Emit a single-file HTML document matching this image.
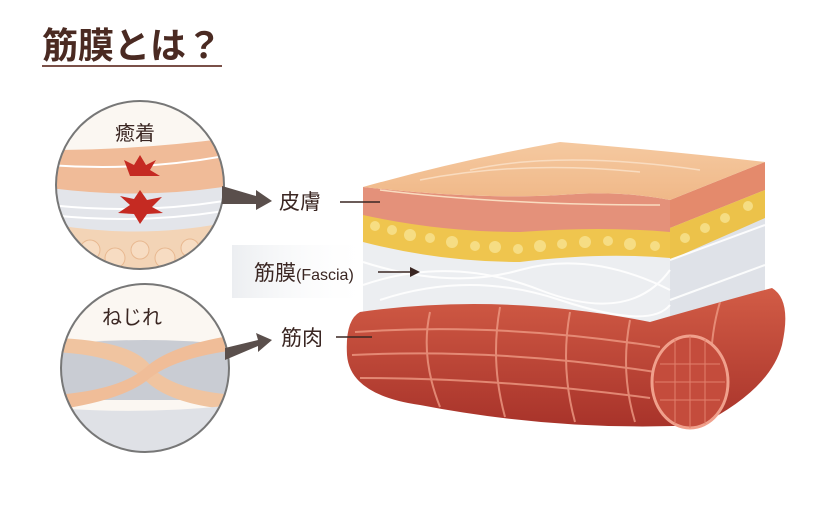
<!DOCTYPE html>
<html><head><meta charset="utf-8"><style>
body{margin:0;background:#fff;width:830px;height:500px;overflow:hidden;font-family:"Liberation Sans","Noto Sans CJK JP",sans-serif}
</style></head><body>
<svg width="830" height="500" viewBox="0 0 830 500" xmlns="http://www.w3.org/2000/svg">
<defs>
<linearGradient id="top" x1="0" y1="0" x2="0" y2="1"><stop offset="0" stop-color="#f5c9a0"/><stop offset="1" stop-color="#f0b888"/></linearGradient>
<linearGradient id="band" x1="0" y1="0" x2="1" y2="0"><stop offset="0" stop-color="#eceef1"/><stop offset="1" stop-color="#ffffff" stop-opacity="0"/></linearGradient>
<linearGradient id="mus" x1="0" y1="0" x2="0" y2="1"><stop offset="0" stop-color="#d25c46"/><stop offset="1" stop-color="#a8332a"/></linearGradient>
<clipPath id="c1"><circle cx="140" cy="185" r="84"/></clipPath>
<clipPath id="c2"><circle cx="145" cy="368" r="84"/></clipPath>
</defs>
<text x="42" y="58" font-size="36" font-weight="bold" fill="#4a2a22" font-family="Liberation Sans,Noto Sans CJK JP,sans-serif">筋膜とは？</text>
<rect x="42" y="65" width="180" height="2" fill="#7a5048"/>

<rect x="232" y="245" width="140" height="53" fill="url(#band)"/>

<path d="M670 200 L765 162 L765 300 L670 335 Z" fill="#dfe2e8"/>
<path d="M670 200 L765 162 L765 190 L670 228 Z" fill="#e48a6c"/>
<path d="M670 228 L765 190 L765 218 L670 260 Z" fill="#ecc24a"/>
<path d="M363 187 Q480 200 560 195 Q620 190 670 200 L670 335 Q560 320 363 320 Z" fill="#eceef1"/>
<path d="M363 187 Q480 200 560 195 Q620 190 670 200 L670 240 Q600 232 520 240 Q440 240 363 220 Z" fill="#e4917a"/>
<path d="M363 215 Q440 232 520 232 Q600 226 670 232 L670 258 Q600 252 520 262 Q440 262 363 242 Z" fill="#efc54e"/>
<g fill="#f7e08a" opacity="0.9">
<circle cx="375" cy="226" r="5"/><circle cx="392" cy="230" r="5"/><circle cx="410" cy="235" r="6"/><circle cx="430" cy="238" r="5"/><circle cx="452" cy="242" r="6"/><circle cx="475" cy="246" r="5"/><circle cx="495" cy="247" r="6"/><circle cx="518" cy="249" r="5"/><circle cx="540" cy="246" r="6"/><circle cx="562" cy="244" r="5"/><circle cx="585" cy="242" r="6"/><circle cx="608" cy="241" r="5"/><circle cx="630" cy="244" r="6"/><circle cx="655" cy="246" r="5"/><circle cx="685" cy="238" r="5"/><circle cx="705" cy="228" r="5"/><circle cx="725" cy="218" r="5"/><circle cx="748" cy="206" r="5"/>
</g>
<g stroke="#ffffff" stroke-width="2" fill="none" opacity="0.9">
<path d="M363 262 Q450 290 520 270 T670 290"/>
<path d="M363 285 Q450 255 540 290 T670 270"/>
<path d="M380 300 Q470 270 560 300 T670 305"/>
<path d="M670 260 L765 225"/><path d="M670 300 L765 265"/>
</g>
<path d="M363 187 Q460 160 560 142 Q660 150 765 162 L670 200 Q620 190 560 195 Q480 200 363 187 Z" fill="url(#top)"/>
<g stroke="#f9dcc0" stroke-width="1.5" fill="none"><path d="M420 180 Q520 160 640 172"/><path d="M470 170 Q560 150 700 170"/><path d="M380 190 Q500 205 660 205"/></g>

<path d="M360 312 Q500 292 650 322 Q720 302 772 288 Q792 300 782 345 Q770 390 700 425 Q560 432 420 405 Q350 395 347 355 Q345 320 360 312 Z" fill="url(#mus)"/>
<g stroke="#ee9a84" stroke-width="2" fill="none" opacity="0.8">
<path d="M355 332 Q500 322 660 347"/><path d="M352 355 Q500 348 655 372"/><path d="M360 378 Q500 378 650 398"/>
<path d="M430 312 Q420 357 440 407"/><path d="M500 307 Q490 362 505 417"/><path d="M570 312 Q560 367 575 422"/><path d="M630 320 Q620 372 635 422"/><path d="M720 302 Q705 352 715 412"/>
</g>
<ellipse cx="690" cy="382" rx="38" ry="46" fill="#c44c3c" stroke="#f0a08c" stroke-width="3"/>
<g stroke="#e2806c" stroke-width="1" fill="none"><path d="M660 364 H720 M655 382 H725 M660 400 H720 M675 339 V424 M690 336 V428 M705 339 V424"/></g>

<g font-family="Liberation Sans,Noto Sans CJK JP,sans-serif" fill="#3a2622">
<text x="279" y="209" font-size="21">皮膚</text>
<text x="254" y="280" font-size="21">筋膜<tspan font-size="16">(Fascia)</tspan></text>
<text x="281" y="345" font-size="21">筋肉</text>
</g>
<g stroke="#3a2622" stroke-width="1.5"><line x1="340" y1="202" x2="380" y2="202"/><line x1="378" y1="272" x2="410" y2="272"/><line x1="336" y1="337" x2="372" y2="337"/></g>
<path d="M410 267 L420 272 L410 277 Z" fill="#3a2622"/>

<g clip-path="url(#c1)">
<rect x="50" y="95" width="180" height="180" fill="#fbf7f2"/>
<path d="M50 150 Q140 150 230 138 L230 190 Q140 205 50 190 Z" fill="#f0bb98"/>
<path d="M50 188 Q140 200 230 186 L230 225 Q140 240 50 225 Z" fill="#e3e5ea"/>
<path d="M50 224 Q140 240 230 222 L230 275 L50 275 Z" fill="#f3d4b6"/>
<g fill="#f7dcc2" stroke="#e8b890"><circle cx="90" cy="250" r="10"/><circle cx="115" cy="258" r="10"/><circle cx="140" cy="250" r="9"/><circle cx="165" cy="258" r="10"/><circle cx="190" cy="248" r="9"/><circle cx="75" cy="260" r="8"/></g>
<g stroke="#fff" stroke-width="2" fill="none"><path d="M50 165 Q140 172 230 155"/><path d="M50 205 Q140 215 230 200"/><path d="M50 215 Q140 225 230 210"/></g>
<path d="M140 155 L146 165 L156 160 L150 170 L160 176 L130 176 L124 160 L134 165 Z" fill="#c52a22"/>
<path d="M140 190 L147 200 L162 197 L152 207 L163 213 L147 214 L140 224 L134 214 L118 213 L130 205 L120 196 L134 199 Z" fill="#c52a22"/>
<text x="115" y="140" font-size="20" fill="#3a2622" font-family="Liberation Sans,Noto Sans CJK JP,sans-serif">癒着</text>
</g>
<circle cx="140" cy="185" r="84" fill="none" stroke="#777" stroke-width="2"/>
<path d="M222 186 L256 196 L256 190 L272 201 L256 210 L256 204 L222 204 Z" fill="#5a4f4c"/>

<g clip-path="url(#c2)">
<rect x="55" y="280" width="180" height="180" fill="#fbf7f2"/>
<path d="M55 345 Q145 335 235 345 L235 400 L55 400 Z" fill="#c9ccd3"/>
<path d="M55 338 Q130 340 150 365 Q170 390 235 395 L235 410 Q170 405 145 380 Q120 355 55 352 Z" fill="#f0c4a0"/>
<path d="M55 395 Q120 390 145 368 Q170 345 235 335 L235 350 Q175 358 150 378 Q125 400 55 410 Z" fill="#f0bd98"/>
<path d="M55 408 Q145 415 235 405 L235 460 L55 460 Z" fill="#dfe1e6"/>
<text x="102" y="324" font-size="20" fill="#3a2622" font-family="Liberation Sans,Noto Sans CJK JP,sans-serif">ねじれ</text>
</g>
<circle cx="145" cy="368" r="84" fill="none" stroke="#777" stroke-width="2"/>
<path d="M225 348 L258 340 L256 333 L272 340 L258 352 L258 346 L225 360 Z" fill="#5a4f4c"/>
</svg>
</body></html>
